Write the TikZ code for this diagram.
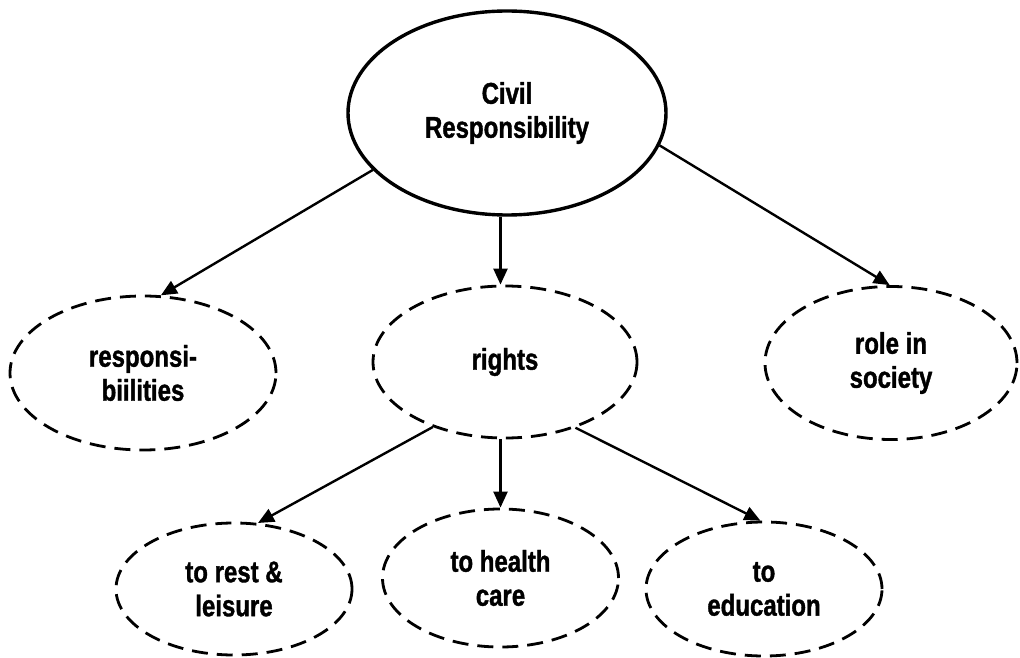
\documentclass[tikz,border=0pt]{standalone}
\usepackage{fontspec}
\setmainfont{Liberation Sans}[FakeStretch=0.8, BoldFeatures={FakeBold=1.2}]
\usetikzlibrary{shapes.geometric,arrows.meta}
\begin{document}
\begin{tikzpicture}[x=1pt,y=1pt,
  lbl/.style={ellipse, inner sep=0pt, align=center, font=\fontsize{30}{34}\selectfont\bfseries},
  mainbox/.style={lbl, draw, line width=3.4pt},
  subbox/.style={lbl, draw, line width=2.8pt, dash pattern=on 16pt off 9pt},
  arr/.style={line width=2.4pt, -{Triangle[length=16pt,width=14pt]}}]
\useasboundingbox (0,0) rectangle (1020,657);
\node[mainbox, minimum width=318pt, minimum height=204pt] (civil) at (507,544) {Civil\\Responsibility};
\node[subbox, minimum width=266pt, minimum height=154pt] (resp) at (143,284) {responsi-\\biilities};
\node[subbox, minimum width=264pt, minimum height=152pt] (rights) at (505,295) {rights};
\node[subbox, minimum width=252pt, minimum height=153pt] (role) at (891,294) {role in\\society};
\node[subbox, minimum width=236pt, minimum height=132pt] (rest) at (234,68) {to rest \&\\leisure};
\node[subbox, minimum width=236pt, minimum height=138pt] (health) at (500.5,79) {to health\\care};
\node[subbox, minimum width=236pt, minimum height=134pt] (edu) at (764,68) {to\\education};
\draw[arr] (civil.203) -- (resp.77);
\draw[arr] (civil.south -| health.north) -- (rights.north -| health.north);
\draw[arr] (civil.348.6) -- (role.91);
\draw[arr] (rights.222) -- (rest.70.6);
\draw[arr] (rights.south -| health.north) -- (health.north);
\draw[arr] (rights.317.5) -- (edu.93);
\end{tikzpicture}
\end{document}
